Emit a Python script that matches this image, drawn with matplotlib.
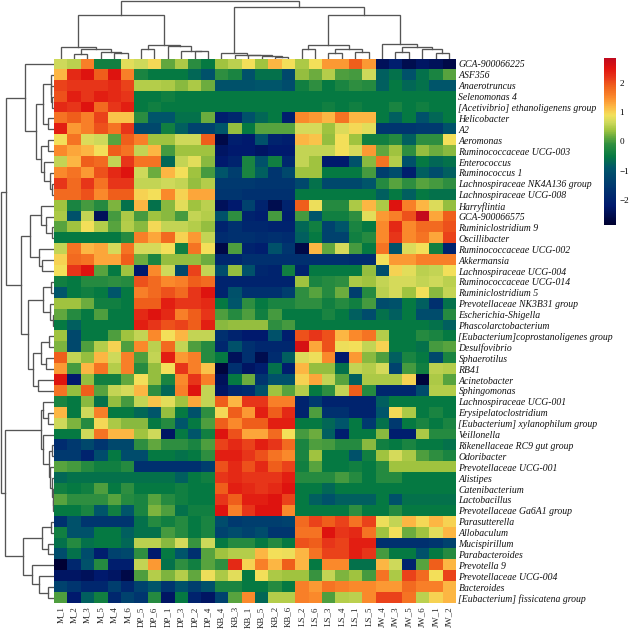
import numpy as np
import matplotlib
matplotlib.use('Agg')
import matplotlib.pyplot as plt
from matplotlib.colors import LinearSegmentedColormap

# names of rows and columns, in the order they are drawn
genera = ['GCA-900066225', 'ASF356', 'Anaerotruncus', 'Selenomonas 4',
          '[Acetivibrio] ethanoligenens group', 'Helicobacter', 'A2', 'Aeromonas',
          'Ruminococcaceae UCG-003', 'Enterococcus', 'Ruminococcus 1',
          'Lachnospiraceae NK4A136 group', 'Lachnospiraceae UCG-008', 'Harryflintia',
          'GCA-900066575', 'Ruminiclostridium 9', 'Oscillibacter',
          'Ruminococcaceae UCG-002', 'Akkermansia', 'Lachnospiraceae UCG-004',
          'Ruminococcaceae UCG-014', 'Ruminiclostridium 5', 'Prevotellaceae NK3B31 group',
          'Escherichia-Shigella', 'Phascolarctobacterium',
          '[Eubacterium]coprostanoligenes group', 'Desulfovibrio', 'Sphaerotilus', 'RB41',
          'Acinetobacter', 'Sphingomonas', 'Lachnospiraceae UCG-001',
          'Erysipelatoclostridium', '[Eubacterium] xylanophilum group', 'Veillonella',
          'Rikenellaceae RC9 gut group', 'Odoribacter', 'Prevotellaceae UCG-001', 'Alistipes',
          'Catenibacterium', 'Lactobacillus', 'Prevotellaceae Ga6A1 group', 'Parasutterella',
          'Allobaculum', 'Mucispirillum', 'Parabacteroides', 'Prevotella 9',
          'Prevotellaceae UCG-004', 'Bacteroides', '[Eubacterium] fissicatena group']
samples = ['M_1', 'M_2', 'M_3', 'M_5', 'M_4', 'M_6', 'DP_5', 'DP_6', 'DP_1', 'DP_3', 'DP_2', 'DP_4',
           'KB_4', 'KB_3', 'KB_1', 'KB_5', 'KB_2', 'KB_6', 'LS_2', 'LS_6', 'LS_3', 'LS_4', 'LS_1', 'LS_5',
           'JW_4', 'JW_3', 'JW_5', 'JW_6', 'JW_1', 'JW_2']

# values, one line per genus
values = [
    [.65, .55, 1.6, -.4, -.4, .8, .65, .95, .15, .45, -.15, -.5, .4, .55, .9, .4, 1.2, .9, .45, .9, 1.4, 1.4, 1.9, 1.4, -2.4, -2.1, -2.5, -2.3, -2.4, -2.6],
    [1.2, 2.3, 2.5, 1.9, 2.5, 1.6, -.3, -.5, -.5, -.5, -.7, -1.0, -.1, -.3, -1.0, -.6, -.6, -1.2, .35, .2, .5, .05, 0, .65, -.8, -.6, -1.0, -.6, -.3, .1],
    [2.1, 2.2, 2.2, 2.2, 2.3, 2.1, .5, .5, .45, .3, .45, .2, -1.0, -1.0, -1.0, -.9, -.9, -1.1, -.4, -.1, -.5, -.3, -.1, -.2, -.8, -.5, -.7, -.6, -.9, -.9],
    [2.0, 2.4, 2.2, 2.4, 2.3, 2.2, -.5, -.5, -.4, -.5, -.5, -.5, -.5, -.5, -.5, -.5, -.5, -.5, -.5, -.5, -.5, -.5, -.5, -.5, -.5, -.5, -.5, -.5, -.5, -.5],
    [2.3, 2.2, 2.5, 1.8, 2.2, 2.4, -.5, -.4, -.5, -.5, -.5, -.5, -.5, -.5, -.5, -.5, -.5, -.5, -.5, -.5, -.4, -.5, -.4, -.5, -.5, -.3, -.5, -.4, -.5, -.5],
    [1.7, 1.9, 1.6, 2.1, 1.1, 1.1, -.15, -.9, -.9, -.6, -.6, .2, -2.1, -1.9, -1.0, -.7, -.5, -2.1, 1.5, 1.4, 1.2, 1.7, 1.2, 1.2, -.5, -.8, -.5, -1.0, -.7, -.5],
    [2.4, 1.4, 1.6, 2.0, 1.7, 2.2, -1.2, -1.2, -.4, -.8, -1.3, -1.3, -.9, .35, -.5, .1, .1, .1, .7, .7, .4, .75, .95, .8, -1.6, -1.6, -1.6, -1.5, -1.5, -1.0],
    [.9, 1.7, .75, .65, .1, 1.9, 1.6, .4, .4, .65, .65, 1.9, -2.6, -2.1, -2.2, -1.0, -2.0, -2.1, 1.2, 1.1, .35, .9, .4, -.4, -.4, -.2, -.8, -.1, -.1, .9],
    [1.5, 1.3, 1.2, .9, 1.9, 1.7, .6, 1.2, 0, .4, .4, .4, -2.3, -2.2, -2.2, -2.3, -2.2, -2.2, .6, .6, .6, .9, .7, 1.4, .15, .4, -.1, .35, .2, .3],
    [.6, 1.2, 1.9, 1.8, .6, 2.2, 1.7, 1.7, -.7, .6, .8, .3, -2.2, -2.0, -.3, -1.0, -.4, -1.9, .6, .4, -2.2, -2.2, -1.0, .3, 1.7, .5, -1.0, -.5, -.7, -.6],
    [1.5, 1.7, 1.4, 2.0, 2.3, 2.5, .65, .2, 1.2, .9, .4, 0, -.9, -1.4, -.3, -.8, -1.6, -1.2, .4, .4, -.5, -.5, -.5, 0, -1.4, -1.1, -2.1, -.8, -1.1, -.8],
    [2.2, 1.8, 2.2, 1.7, 2.2, 2.2, .6, .6, .65, .6, .35, .5, -1.5, -1.5, -1.5, -1.6, -1.6, -1.6, -1.2, -.6, -1.2, -1.2, -1.2, -.9, -.2, .1, -.1, .1, 0, -.1],
    [1.8, 1.8, 2.0, 1.5, 1.9, 1.9, 1.0, .9, 1.5, 1.0, 1.3, 1.3, -1.6, -1.6, -1.7, -1.7, -1.7, -1.7, -.5, -.5, -.5, -.5, -.5, -.5, -.8, -.5, -.8, -.5, -.6, -.6],
    [.4, -.3, 0, -.2, .25, -.6, 1.2, -.6, .3, .8, .4, .55, -2.4, -2.2, -1.3, -2.0, -2.5, -2.0, 1.9, .85, -.2, -.2, .45, 1.2, .45, 2.5, 1.6, 1.2, .75, .35],
    [.45, -1.0, .6, -2.4, 0, .45, 0, .4, .3, 0, .6, .5, -1.0, -.1, -2.0, -2.1, 0, -2.1, 0, -.9, -.4, -.4, -.1, .8, 1.4, 1.6, 2.0, 2.8, 1.3, 1.9],
    [.1, .4, .9, .5, .1, .5, .3, .95, .6, .6, .5, .35, -2.0, -1.7, -1.9, -1.9, -2.0, -2.0, -.7, -.4, -1.3, -.9, -.3, -.5, 1.5, 2.3, 1.5, 1.8, 1.8, 2.0],
    [-.5, -.5, -.5, -.5, -.5, -.2, 1.6, 1.3, 1.8, 1.0, 1.4, .6, -1.8, -1.7, -1.7, -1.8, -1.7, -1.8, -.8, -.5, -1.3, -1.3, -.4, -.2, 1.5, 2.2, 1.5, 1.7, 1.3, 2.1],
    [.6, 1.7, 1.2, 1.3, .7, 1.7, .7, .7, .9, -.4, 1.7, .9, -2.6, .05, -2.0, -2.1, -1.0, -1.6, -2.6, 1.2, .15, .7, 0, -.5, 1.7, -1.0, .75, .9, -.4, -2.0],
    [1.0, 1.8, 1.7, 1.3, 1.3, 1.9, .2, -.3, .35, .35, .35, .2, -1.9, -1.9, -1.7, -1.7, -1.7, -1.7, -1.7, -1.7, -1.7, -1.7, -1.8, -1.8, .9, 1.4, 1.4, 1.6, 1.6, 1.6],
    [.9, 2.2, 2.5, .1, -.5, .4, -2.2, 1.5, .65, -1.2, 2.1, .6, -1.1, .35, -1.0, -1.9, -2.0, -.4, -2.0, -.5, -.5, -.5, -.5, .35, -1.1, 1.0, .8, .55, .6, .9],
    [-.4, -.5, -.2, -.2, -.1, -.2, 2.0, 1.8, 1.5, 1.6, 1.9, 1.8, -2.0, -2.0, -2.0, -2.0, -2.0, -2.0, .4, -.3, -.2, -.1, .45, .4, .6, .7, .7, .6, .65, .55],
    [-.9, -.5, -.4, -.5, -.9, -.5, 1.6, 1.8, 2.0, 1.8, 2.2, 2.5, -2.0, -1.0, -1.7, -1.7, -1.7, -1.4, -.1, .1, -.2, .2, -1.4, -.2, .55, .7, .4, .9, .3, .6],
    [.4, .4, .2, -.4, -.4, -.5, 1.9, 1.9, 2.4, 2.2, 2.2, 2.3, -.5, -.9, -.1, -.5, -.3, -.3, -.1, -.1, -.4, -.2, -.4, 0, -1.1, -1.0, -.5, -.8, -1.7, -.6],
    [.15, -.2, -.5, .05, -.5, -.5, 2.3, 2.5, 2.3, 1.6, 1.9, 2.2, .05, -.2, .05, -.4, 0, -.5, -.5, -.5, -.3, -.5, -.8, -1.1, -.6, -.8, -.5, -1.1, -1.1, -.2],
    [-.5, -.8, -.5, -.5, -.5, -.5, 2.4, 2.2, 2.0, 2.1, 1.9, 2.4, .3, .35, .35, .35, -.1, 0, -.5, -.5, -.5, -.5, -.5, -.5, -.5, -.5, -.5, -.5, -.6, -.8],
    [.4, -1.2, -.5, -.5, .05, .4, .6, 1.5, .9, 1.2, .6, .6, -1.7, -2.0, -2.2, -2.2, -1.0, -2.1, 2.0, 2.2, 2.0, 1.2, 1.5, 1.7, .5, -.5, -.5, -.2, -.3, -.5],
    [.25, -1.2, .05, .5, 1.0, .05, 1.5, .55, 1.8, .6, .05, -.2, -1.9, -1.0, -1.7, -1.9, -1.9, -1.9, 2.6, 1.3, 2.0, .85, .9, .6, 1.0, -.5, -.5, -.6, 0, .1],
    [1.9, .6, .35, 1.2, .65, 1.6, .05, .6, 2.4, 1.4, 1.6, -.2, -.5, -2.4, -1.7, -2.5, -1.8, -.8, .75, .85, 1.5, -2.2, 1.4, .3, .05, -.8, -.3, -.5, -1.2, -.3],
    [1.4, 0, 1.2, 1.7, .5, 1.6, -.2, .35, .9, 2.2, 1.6, 1.1, -2.7, -1.7, -2.3, -2.1, -.6, -2.1, 1.2, .35, .35, -.6, .6, .5, .7, -1.3, 0, -.4, .55, .5],
    [2.5, -2.2, .35, -.4, -.4, .15, .9, .35, -.3, 1.5, 2.2, 1.6, -2.4, -.5, .2, -1.6, -1.0, -1.0, 1.0, 1.3, .6, .1, -.8, .45, .45, .45, 1.0, -2.7, .45, .1],
    [1.7, .35, 1.9, .1, .6, .7, 1.2, -.1, -.7, 1.6, 2.5, .6, -2.3, -1.9, -1.8, -1.0, .4, .1, .5, -.5, -.1, .6, 1.9, -.2, -1.9, -1.9, -1.9, -1.1, .5, .5],
    [-.3, -.5, .3, -.6, .35, 0, .6, 1.1, .8, .4, 1.3, .6, 1.9, 1.2, 2.2, 2.2, 1.6, 1.6, -2.0, -1.5, -2.0, -2.0, -2.0, -2.0, -.8, -.5, -.5, -.5, -.5, -.5],
    [1.2, -.5, .65, 1.6, -.5, -.5, -.7, -.9, .35, -.5, -1.0, -.1, .95, 1.9, 1.4, 2.4, 1.9, 2.3, -2.0, .05, -1.7, -1.7, -2.0, -2.0, -.9, .95, .45, -.5, -.3, -.5],
    [.65, .25, -.2, .95, .45, .3, .3, -.5, -.2, -.9, -.5, .05, 1.9, 1.5, 1.9, 1.9, 2.4, 2.4, -.5, -.5, -.7, -.9, -.5, -1.5, -.6, -1.5, -.5, -.3, -.5, -.3],
    [-.5, -.5, .65, 1.7, 1.2, 1.2, .4, .65, -2.3, -.5, -.9, -.4, 2.5, 2.0, 1.3, 1.3, 1.8, .9, 0, .2, -.8, -2.1, -.5, -.5, .3, -2.1, -2.1, .45, -.2, -.2],
    [-1.8, -1.5, -1.2, -1.6, -1.2, -1.2, -.1, .15, -.1, -.1, -.3, .05, 2.1, 2.3, 2.1, 2.4, 2.2, 1.8, -.3, .05, 0, -.2, -.2, .3, -.4, -.5, -.3, -.5, -.5, -.6],
    [-1.5, -1.5, -2.0, -1.1, -.5, -1.1, -1.1, -.5, -.5, -.6, -.5, -.1, 2.4, 2.4, 2.2, 2.0, 1.7, 1.5, -.3, .4, -.5, -.5, -1.0, -.4, .4, .7, .45, .05, -.1, -.3],
    [.1, 0, -.2, -.4, -.4, -.2, -1.7, -1.7, -1.7, -1.7, -1.7, -1.4, 2.0, 2.3, 2.0, 2.3, 1.9, 2.1, -.4, .1, -.5, -.5, -.4, -.5, -.2, .4, .4, .4, .4, .4],
    [-.7, -.6, -.6, -.6, -.6, -.6, -.6, -.6, -.6, -.8, -.5, -.4, 2.2, 2.3, 2.2, 2.2, 2.2, 2.4, -.2, -.2, -.2, 0, -.2, -.5, -.2, -.2, -.5, -.5, -.5, -.5],
    [-.4, -.5, -.4, .05, -.5, -.1, -.5, -.5, -.5, -.4, -.5, -.5, 1.9, 2.4, 2.3, 2.2, 2.3, 2.5, -.5, -.5, -.7, -.5, -.5, -.5, -.5, -.5, -.5, -.5, -.5, -.5],
    [.1, -.1, -.1, -.1, .1, -.2, -.3, .1, -.2, -.4, -.5, -.5, 2.2, 1.9, 2.4, 2.4, 2.5, 2.1, -.5, -.8, -1.0, -.8, -.8, -.8, -.5, -1.0, -.6, -.6, -.6, -.6],
    [-.5, -.5, -.3, -.9, -.4, -.9, -.3, .25, .05, -.6, -.4, -.4, 2.5, 1.6, 2.2, 2.5, 2.5, 1.5, -.5, -.5, -.5, -.5, -.1, -.5, -.5, -.2, -.5, -.5, -.5, -.5],
    [-1.7, -1.0, -1.6, -1.6, -1.6, -1.6, -.6, -.2, -.4, -.2, -.5, -.3, -1.1, -1.5, -1.4, -1.4, -1.4, -1.3, 1.8, 2.1, 1.9, 2.1, 1.7, 2.1, .85, .6, 1.2, .95, 1.2, 1.0],
    [-.4, -1.0, -1.0, -.5, -.5, -.8, -.6, -.6, 0, -.2, -.5, -.3, -1.3, -1.1, -1.3, -1.1, -1.6, -1.6, 1.7, 1.7, 2.5, 2.2, 2.3, 1.7, .4, .9, .2, .4, .8, 1.2],
    [-.6, -.2, -.6, -.5, -.5, -.7, .55, .55, .3, .7, -.05, .65, -.5, -.2, -.2, -.5, -.2, -.5, 2.0, 1.9, 2.2, 2.1, 2.4, 2.4, -1.7, -1.7, -1.7, -1.7, -1.6, -1.3],
    [-1.1, -.6, -1.1, -2.1, -1.3, -1.2, -.1, -2.2, -.5, -.9, -1.7, .1, .4, .5, .5, 1.2, .9, .85, 1.2, 1.7, 2.1, 2.1, 2.4, 2.2, 0, -.5, -.5, -1.0, -.5, -.2],
    [-2.8, -1.9, -1.0, -.2, -2.1, -2.1, .6, 1.4, -.6, -.1, -.4, .1, -.1, 2.3, 1.0, 1.6, 1.2, 1.9, 1.2, -.5, 1.5, 1.5, -.6, -.6, 1.2, .65, -2.0, .1, 1.9, 1.2],
    [-2.3, -2.3, -2.4, -2.2, -2.3, -2.6, .05, .5, .25, .5, .15, .85, .45, .8, -.5, .9, .45, .4, .4, -.05, .6, .25, .4, 0, 1.7, .45, 2.1, 1.8, .9, 2.1],
    [-1.3, -1.6, -1.9, -1.9, -1.4, -1.9, -1.3, -.9, -1.6, -1.0, -1.4, -1.0, -.3, -.3, -.5, -.5, -.2, -.5, 1.6, 1.4, 1.7, 1.6, 1.5, 1.5, 1.4, 1.4, 1.8, 1.6, 1.6, 1.2],
    [.05, -2.2, -.8, -.4, -1.9, -1.3, -1.6, -.2, -2.3, -.5, -2.0, -2.3, -1.3, .1, 1.5, -.7, .5, .5, 1.6, 1.5, .05, .5, .55, 1.5, 2.1, 2.1, 1.7, .55, 1.0, 1.2],
]

# trees as (merge height, child, child); a leaf is the index of its row or column
col_tree = (58,
            (43.8,
             (11.8, 0, (9.5, (4.5, 1, 2), (6.2, 3, (5.2, 4, 5)))),
             (13.8, (9.2, 6, 7), (12.2, 8, (7.8, 9, (7.2, 10, 11))))),
            (51.5,
             (5.5, 12, (4, 13, (3.5, 14, (2.5, 15, (1.2, 16, 17))))),
             (43.8,
              (13.8, (9.2, 18, 19), (9.5, (5.8, 20, 21), (6.2, 22, 23))),
              (14.5, 24, (11.5, (6.8, 25, 26), (9.5, 27, (5.5, 28, 29)))))))

row_tree = (53.5,
            (47.7,
             (29,
              0,
              (18.3,
               (11,
                (3.5, 1, (3, 2, (2.5, 3, 4))),
                (6, 5, 6)),
               (13,
                (6, 7, 8),
                (10, 9, (4, 10, (2.3, 11, 12)))))),
             (33.3,
              (24.3,
               (13.3, 13, (8.3, 14, (2.5, 15, 16))),
               (15, 17, (11.7, 18, 19))),
              (25.7,
               (11.3, (3.3, 20, 21), (4, 22, (1.3, 23, 24))),
               (21.3,
                (13.3, (4.7, 25, 26), (8, 27, 28)),
                (15.7, 29, 30))))),
            (49.3,
             (13.3,
              (10.7, 31, (5.7, 32, 33)),
              (11.3,
               34,
               (5, (2.3, 35, 36), (4, 37, (2, 38, (1.5, 39, (1, 40, 41))))))),
             (31.3,
              (11.7, (3.3, 42, 43), (6.3, 44, 45)),
              (21.7, 46, (14.7, 47, (6, 48, 49))))))

colorbar_ticks = [-2, -1, 0, 1, 2]
vmin, vmax = -2.85, 2.85

cmap_stops = [(-2.85, '#000030'), (-2.2, '#001a6e'), (-1.5, '#003a70'), (-0.9, '#00566a'),
              (-0.5, '#067a42'), (-0.1, '#2f8f40'), (0.15, '#62a83e'), (0.4, '#a3c540'),
              (0.65, '#cdd95a'), (0.9, '#f3e05a'), (1.2, '#fdb643'), (1.5, '#fb8a2c'),
              (1.9, '#f0601c'), (2.2, '#e8361a'), (2.5, '#e0140f'), (2.85, '#c00a1e')]
cmap = LinearSegmentedColormap.from_list(
    'heat', [((v - vmin) / (vmax - vmin), c) for v, c in cmap_stops], N=256)

W = H = 629
SERIF = 'Liberation Serif'
LINE = '#555555'


def px_axes(x0, y0, x1, y1):
    # axes from pixel box, y counted from the top of the image
    return fig.add_axes([x0 / W, 1 - y1 / H, (x1 - x0) / W, (y1 - y0) / H])


def draw_tree(ax, node, vertical):
    # returns (leaf position, height) of the node after drawing it
    if not isinstance(node, tuple):
        return node + 0.5, 0
    h, a, b = node
    pa, ha = draw_tree(ax, a, vertical)
    pb, hb = draw_tree(ax, b, vertical)
    pos = [pa, pa, pb, pb]
    dist = [ha, h, h, hb]
    if vertical:
        ax.plot(pos, dist, color=LINE, lw=0.95, solid_joinstyle='miter')
    else:
        ax.plot(dist, pos, color=LINE, lw=0.95, solid_joinstyle='miter')
    return (pa + pb) / 2, h


fig = plt.figure(figsize=(6.29, 6.29), dpi=100)

# heat map
ax = px_axes(54, 58.5, 455.7, 603.5)
data = np.array(values)
ax.imshow(data, cmap=cmap, vmin=vmin, vmax=vmax, aspect='auto', interpolation='nearest',
          extent=(0, len(samples), len(genera), 0))
ax.set_xticks(np.arange(len(samples)) + 0.5)
ax.set_xticklabels(samples, rotation=90, family=SERIF, fontsize=6.4, color='#222222')
ax.yaxis.tick_right()
ax.set_yticks(np.arange(len(genera)) + 0.5)
ax.set_yticklabels(genera, family=SERIF, style='italic', fontsize=7.0, color='#111111')
ax.tick_params(length=0, pad=2)
for s in ax.spines.values():
    s.set_visible(False)

# column tree
ax_top = px_axes(54, 0, 455.7, 58.5)
draw_tree(ax_top, col_tree, True)
ax_top.set_xlim(0, len(samples))
ax_top.set_ylim(0, 58.5)
ax_top.axis('off')

# row tree
ax_left = px_axes(0, 58.5, 54, 603.5)
draw_tree(ax_left, row_tree, False)
ax_left.set_xlim(54, 0)
ax_left.set_ylim(len(genera), 0)
ax_left.axis('off')

# colour bar
ax_cb = px_axes(604, 58, 615.7, 225)
sm = plt.cm.ScalarMappable(cmap=cmap, norm=plt.Normalize(vmin, vmax))
cb = fig.colorbar(sm, cax=ax_cb)
cb.set_ticks(colorbar_ticks)
cb.ax.tick_params(length=0, pad=2.5)
for lab in cb.ax.get_yticklabels():
    lab.set_family(SERIF)
    lab.set_fontsize(6.6)
cb.outline.set_visible(False)

fig.savefig('out.png', dpi=100)
